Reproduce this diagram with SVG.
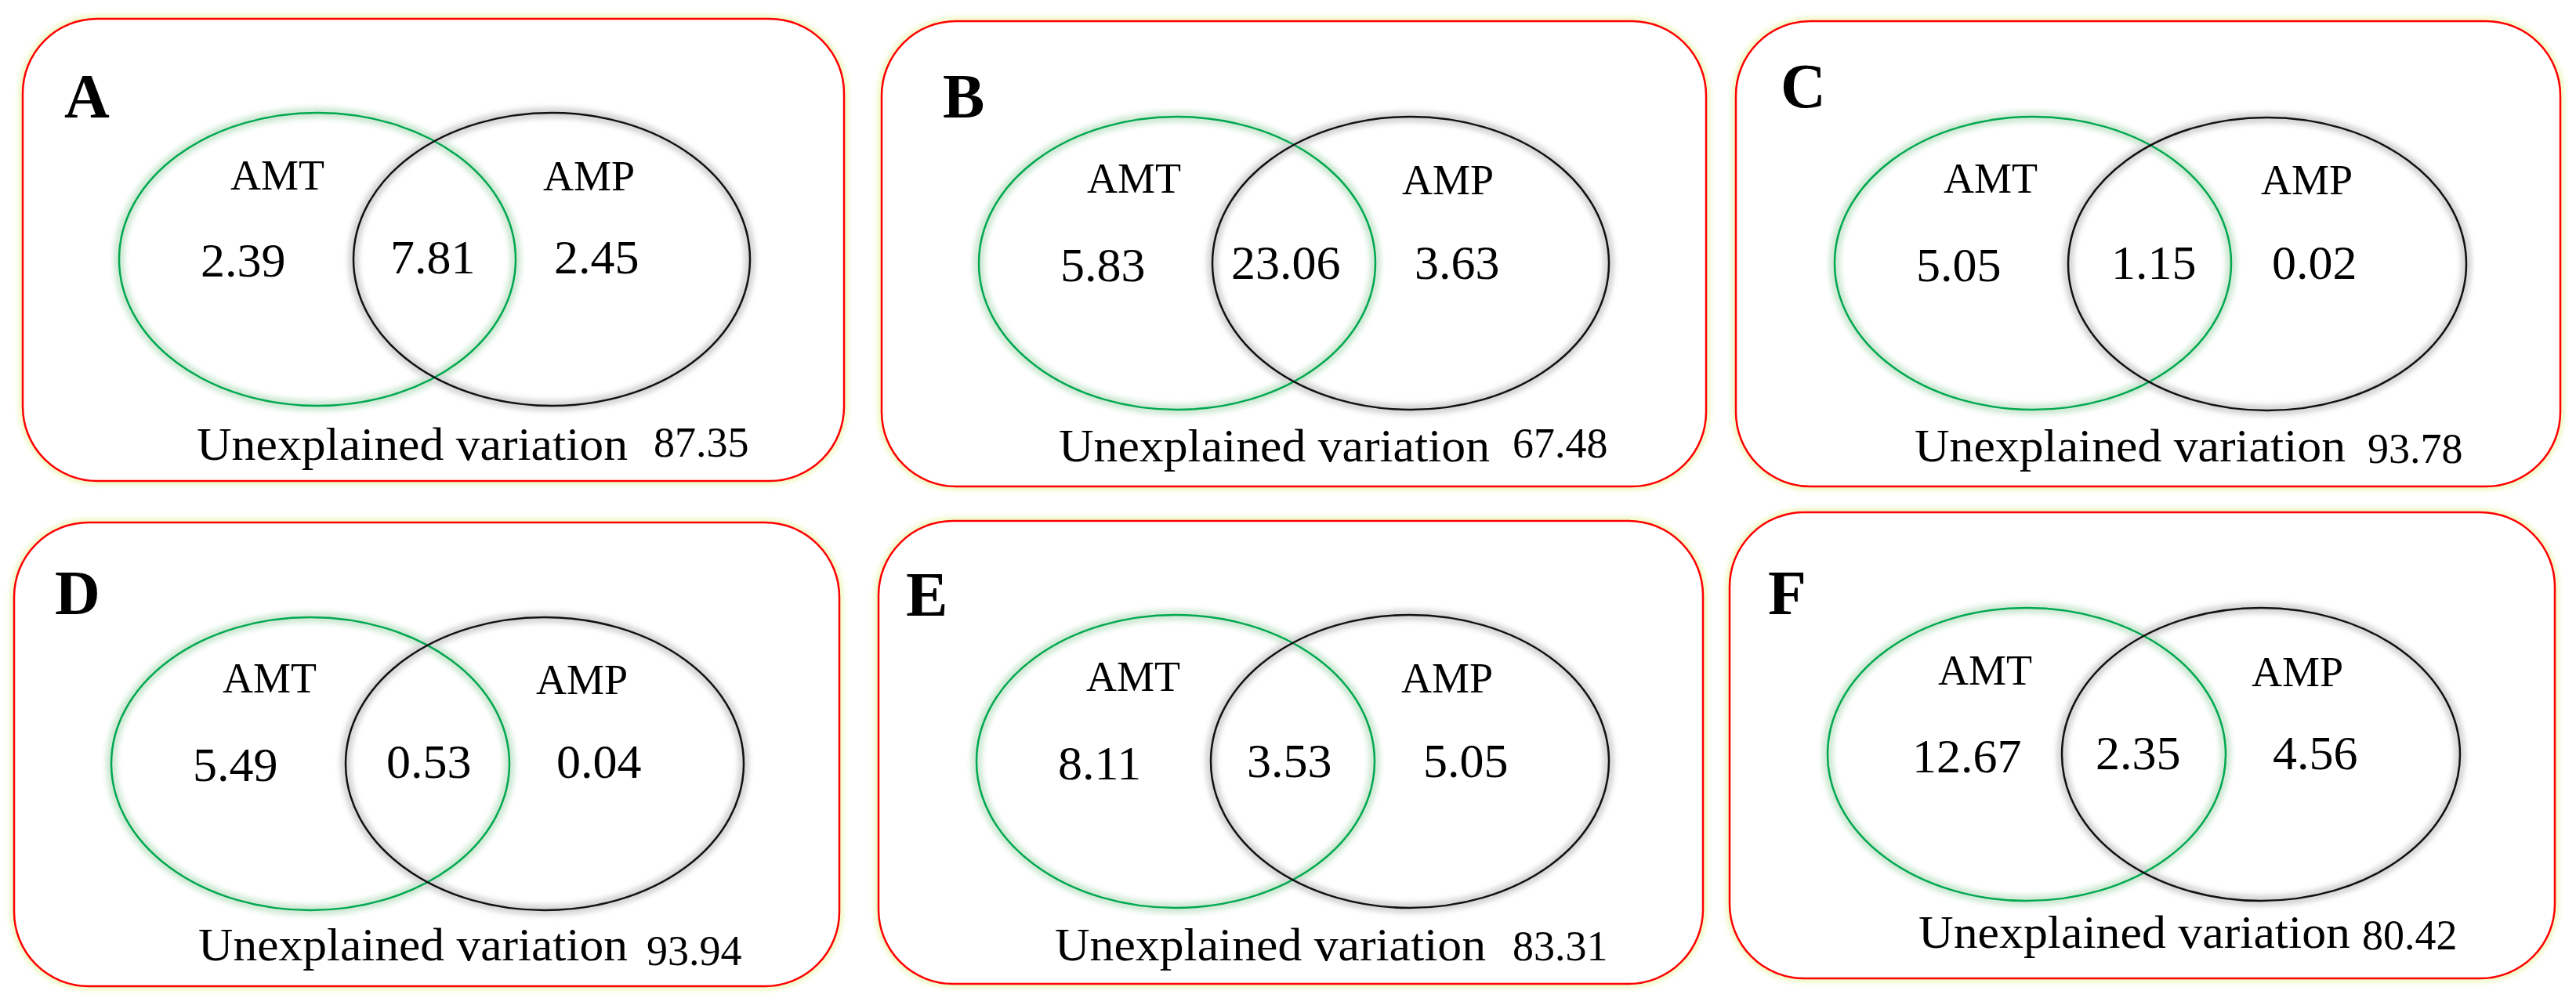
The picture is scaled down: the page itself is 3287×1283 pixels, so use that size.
<svg xmlns="http://www.w3.org/2000/svg" width="3287" height="1283" viewBox="0 0 3287 1283">
<style>
.bg{fill:#ffffff}
.frame{fill:#ffffff;stroke:#ff0000;stroke-width:2.5}
.frameglow{fill:none;stroke:#eef8c0;stroke-width:10;filter:url(#blur)}
.g{fill:none;stroke:#00a84f;stroke-width:2.5}
.gglow{fill:none;stroke:#cfe9d4;stroke-width:14;filter:url(#blur)}
.k{fill:none;stroke:#111111;stroke-width:2.5}
.kglow{fill:none;stroke:#d6d6d6;stroke-width:14;filter:url(#blur)}
text{font-family:"Liberation Serif","Times New Roman",serif;fill:#000}
.lbl{font-size:80px;font-weight:bold}
.set{font-size:54px}
.num{font-size:62px}
.un{font-size:60px}
.unv{font-size:54px}
</style>
<defs>
<filter id="blur" x="-10%" y="-10%" width="120%" height="120%"><feGaussianBlur stdDeviation="3"/></filter>
</defs>
<rect class="bg" x="0" y="0" width="3287" height="1283"/>

<g id="panel-A">
<rect class="frameglow" x="29" y="24" width="1048" height="590" rx="95" ry="95"/>
<rect class="frame" x="29" y="24" width="1048" height="590" rx="95" ry="95"/>
<ellipse class="gglow" cx="405" cy="331" rx="253" ry="187"/>
<ellipse class="kglow" cx="704" cy="331" rx="253" ry="187"/>
<ellipse class="g" cx="405" cy="331" rx="253" ry="187"/>
<ellipse class="k" cx="704" cy="331" rx="253" ry="187"/>
<text class="lbl" x="82" y="150">A</text>
<text class="set" x="294" y="242">AMT</text>
<text class="set" x="693" y="243">AMP</text>
<text class="num" x="256" y="353">2.39</text>
<text class="num" x="498" y="349">7.81</text>
<text class="num" x="707" y="349">2.45</text>
<text class="un" x="251" y="587" textLength="550" lengthAdjust="spacingAndGlyphs">Unexplained variation</text>
<text class="unv" x="834" y="583">87.35</text>
</g>

<g id="panel-B">
<rect class="frameglow" x="1125" y="27" width="1052" height="594" rx="95" ry="95"/>
<rect class="frame" x="1125" y="27" width="1052" height="594" rx="95" ry="95"/>
<ellipse class="gglow" cx="1502" cy="336" rx="253" ry="187"/>
<ellipse class="kglow" cx="1800" cy="336" rx="253" ry="187"/>
<ellipse class="g" cx="1502" cy="336" rx="253" ry="187"/>
<ellipse class="k" cx="1800" cy="336" rx="253" ry="187"/>
<text class="lbl" x="1203" y="150">B</text>
<text class="set" x="1387" y="246">AMT</text>
<text class="set" x="1789" y="248">AMP</text>
<text class="num" x="1353" y="359">5.83</text>
<text class="num" x="1571" y="356">23.06</text>
<text class="num" x="1805" y="356">3.63</text>
<text class="un" x="1351" y="589" textLength="550" lengthAdjust="spacingAndGlyphs">Unexplained variation</text>
<text class="unv" x="1930" y="584">67.48</text>
</g>

<g id="panel-C">
<rect class="frameglow" x="2215" y="27" width="1052" height="594" rx="95" ry="95"/>
<rect class="frame" x="2215" y="27" width="1052" height="594" rx="95" ry="95"/>
<ellipse class="gglow" cx="2594" cy="336" rx="253" ry="187"/>
<ellipse class="kglow" cx="2893" cy="337" rx="254" ry="187"/>
<ellipse class="g" cx="2594" cy="336" rx="253" ry="187"/>
<ellipse class="k" cx="2893" cy="337" rx="254" ry="187"/>
<text class="lbl" x="2272" y="137">C</text>
<text class="set" x="2480" y="246">AMT</text>
<text class="set" x="2885" y="248">AMP</text>
<text class="num" x="2445" y="359">5.05</text>
<text class="num" x="2694" y="356">1.15</text>
<text class="num" x="2899" y="356">0.02</text>
<text class="un" x="2443" y="589" textLength="550" lengthAdjust="spacingAndGlyphs">Unexplained variation</text>
<text class="unv" x="3021" y="591">93.78</text>
</g>

<g id="panel-D">
<rect class="frameglow" x="18" y="667" width="1053" height="592" rx="95" ry="95"/>
<rect class="frame" x="18" y="667" width="1053" height="592" rx="95" ry="95"/>
<ellipse class="gglow" cx="396" cy="975" rx="254" ry="187"/>
<ellipse class="kglow" cx="695" cy="975" rx="254" ry="187"/>
<ellipse class="g" cx="396" cy="975" rx="254" ry="187"/>
<ellipse class="k" cx="695" cy="975" rx="254" ry="187"/>
<text class="lbl" x="70" y="784">D</text>
<text class="set" x="284" y="884">AMT</text>
<text class="set" x="684" y="886">AMP</text>
<text class="num" x="246" y="997">5.49</text>
<text class="num" x="493" y="993">0.53</text>
<text class="num" x="710" y="993">0.04</text>
<text class="un" x="253" y="1226" textLength="548" lengthAdjust="spacingAndGlyphs">Unexplained variation</text>
<text class="unv" x="825" y="1232">93.94</text>
</g>

<g id="panel-E">
<rect class="frameglow" x="1121" y="665" width="1052" height="591" rx="95" ry="95"/>
<rect class="frame" x="1121" y="665" width="1052" height="591" rx="95" ry="95"/>
<ellipse class="gglow" cx="1500" cy="972" rx="254" ry="187"/>
<ellipse class="kglow" cx="1799" cy="972" rx="254" ry="187"/>
<ellipse class="g" cx="1500" cy="972" rx="254" ry="187"/>
<ellipse class="k" cx="1799" cy="972" rx="254" ry="187"/>
<text class="lbl" x="1156" y="786">E</text>
<text class="set" x="1386" y="882">AMT</text>
<text class="set" x="1788" y="884">AMP</text>
<text class="num" x="1350" y="995">8.11</text>
<text class="num" x="1591" y="992">3.53</text>
<text class="num" x="1816" y="992">5.05</text>
<text class="un" x="1346" y="1226" textLength="550" lengthAdjust="spacingAndGlyphs">Unexplained variation</text>
<text class="unv" x="1930" y="1226">83.31</text>
</g>

<g id="panel-F">
<rect class="frameglow" x="2207" y="654" width="1053" height="595" rx="95" ry="95"/>
<rect class="frame" x="2207" y="654" width="1053" height="595" rx="95" ry="95"/>
<ellipse class="gglow" cx="2586" cy="963" rx="254" ry="187"/>
<ellipse class="kglow" cx="2885" cy="963" rx="254" ry="187"/>
<ellipse class="g" cx="2586" cy="963" rx="254" ry="187"/>
<ellipse class="k" cx="2885" cy="963" rx="254" ry="187"/>
<text class="lbl" x="2256" y="784">F</text>
<text class="set" x="2473" y="874">AMT</text>
<text class="set" x="2873" y="876">AMP</text>
<text class="num" x="2440" y="986">12.67</text>
<text class="num" x="2674" y="982">2.35</text>
<text class="num" x="2900" y="982">4.56</text>
<text class="un" x="2448" y="1210" textLength="551" lengthAdjust="spacingAndGlyphs">Unexplained variation</text>
<text class="unv" x="3014" y="1212">80.42</text>
</g>

<g id="connectors"></g>
</svg>
